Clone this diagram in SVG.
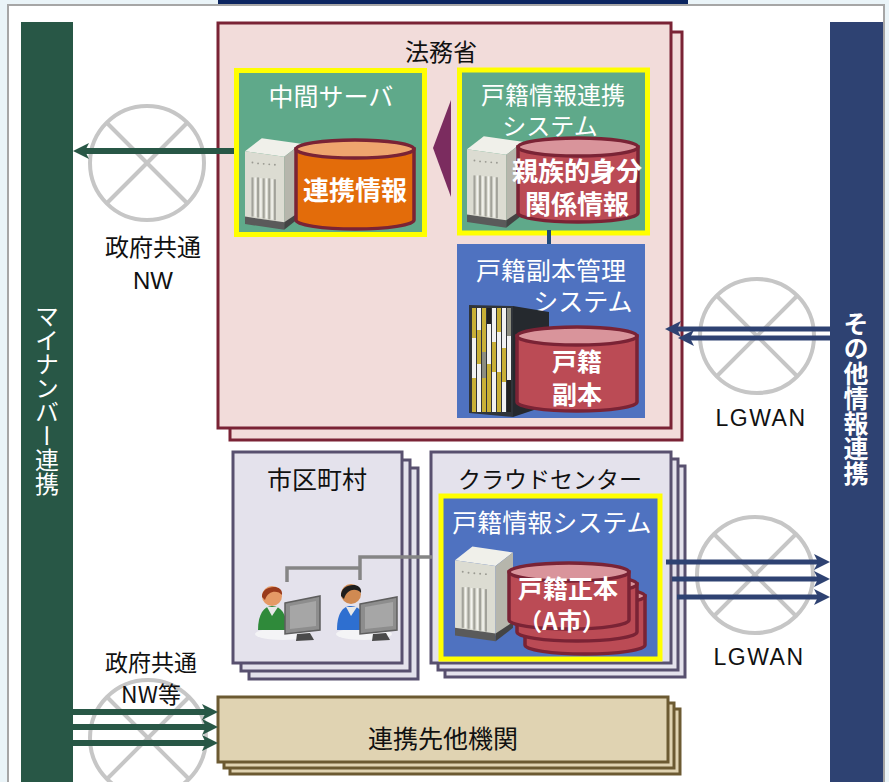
<svg xmlns="http://www.w3.org/2000/svg" xmlns:xlink="http://www.w3.org/1999/xlink" width="889" height="782" viewBox="0 0 889 782">
  <style>
    .jp { font-family: "Noto Sans CJK JP", "Noto Sans", sans-serif; dominant-baseline: central; text-anchor: middle; }
    .wt { fill: #ffffff; }
    .bk { fill: #111111; }
    .bd { font-weight: bold; }
    .lat { font-family: "Liberation Sans", "Noto Sans", sans-serif; dominant-baseline: central; text-anchor: middle; fill: #111111; }
    .net { fill: none; stroke: #c6c6c6; stroke-width: 4; }
    .law { fill: #f2dcda; stroke: #7a2335; stroke-width: 3; }
    .muni { fill: #e4e2ec; stroke: #58506f; stroke-width: 3; }
    .tan { fill: #e0d3b2; stroke: #6c5a32; stroke-width: 3; }
    .ybox-g { fill: #5fa98a; stroke: #ffff00; stroke-width: 5; }
    .ybox-b { fill: #4f72c0; stroke: #ffff00; stroke-width: 5; }
    .cyl-r { fill: #bb4b55; stroke: #7a2335; stroke-width: 3.5; }
    .cyl-rt { fill: #d9949b; stroke: #7a2335; stroke-width: 3.5; }
    .cyl-o { fill: #e36c0a; stroke: #7a2335; stroke-width: 3.5; }
    .cyl-ot { fill: #efa56e; stroke: #7a2335; stroke-width: 3.5; }
    .gline { stroke: #285746; stroke-width: 6; fill: none; }
    .nline { stroke: #2e4272; stroke-width: 5; fill: none; }
    .vert { writing-mode: vertical-rl; text-anchor: start; font-family: "Noto Sans CJK JP", "Noto Sans", sans-serif; fill: #ffffff; }
  </style>
  <defs>
    <marker id="ahG" markerUnits="userSpaceOnUse" markerWidth="18" markerHeight="18" refX="8" refY="8" orient="auto" viewBox="0 0 18 18">
      <path d="M0,0 L16,8 L0,16 L4,8 Z" fill="#285746"/>
    </marker>
    <marker id="ahN" markerUnits="userSpaceOnUse" markerWidth="18" markerHeight="18" refX="8" refY="8" orient="auto" viewBox="0 0 18 18">
      <path d="M0,0 L16,8 L0,16 L4,8 Z" fill="#2e4272"/>
    </marker>
    <!-- tower server icon, 60 x 100 -->
    <symbol id="server" viewBox="0 0 60 100">
      <polygon points="0,16 18,2 60,8 42,22" fill="#f0f0ea"/>
      <polygon points="0,16 42,22 42,94 0,88" fill="#dcdcd2"/>
      <polygon points="42,22 60,8 60,82 42,94" fill="#b6b6ac"/>
      <polygon points="0,86 42,92 42,100 0,94" fill="#5a5a5a"/>
      <polygon points="42,92 60,80 60,86 42,100" fill="#444444"/>
      <g fill="#9a9a92">
        <circle cx="8" cy="28" r="1"/><circle cx="14" cy="29" r="1"/><circle cx="20" cy="29.5" r="1"/><circle cx="26" cy="30" r="1"/><circle cx="32" cy="30.5" r="1"/>
      </g>
      <g stroke="#a2a29a" stroke-width="2.2">
        <line x1="8" y1="44" x2="8" y2="86"/>
        <line x1="14" y1="44" x2="14" y2="87"/>
        <line x1="20" y1="45" x2="20" y2="88"/>
        <line x1="26" y1="45" x2="26" y2="89"/>
        <line x1="32" y1="46" x2="32" y2="90"/>
      </g>
      <g stroke="#f4f4f0" stroke-width="1.4">
        <line x1="11" y1="44" x2="11" y2="86"/>
        <line x1="17" y1="45" x2="17" y2="87"/>
        <line x1="23" y1="45" x2="23" y2="88"/>
        <line x1="29" y1="46" x2="29" y2="89"/>
      </g>
    </symbol>
  </defs>

  <!-- page -->
  <rect x="0" y="0" width="889" height="782" fill="#eaf4f8"/>
  <rect x="8" y="5" width="876" height="790" fill="#ffffff" stroke="#a6a6a6" stroke-width="2"/>
  <rect x="218" y="0" width="470" height="4" fill="#0b2560"/>

  <!-- network clouds -->
  <g id="net-gov-upper">
    <circle class="net" cx="147" cy="163" r="57"/>
    <line class="net" x1="107" y1="123" x2="187" y2="203"/>
    <line class="net" x1="187" y1="123" x2="107" y2="203"/>
    <text class="jp bk" x="153" y="245" font-size="24">政府共通</text>
    <text class="lat" x="153" y="280" font-size="24">NW</text>
  </g>
  <g id="net-lgwan-upper">
    <circle class="net" cx="757" cy="336" r="57"/>
    <line class="net" x1="717" y1="296" x2="797" y2="376"/>
    <line class="net" x1="797" y1="296" x2="717" y2="376"/>
    <text class="lat" x="761" y="418" font-size="23" letter-spacing="1.5">LGWAN</text>
  </g>
  <g id="net-lgwan-lower">
    <circle class="net" cx="755" cy="575" r="58"/>
    <line class="net" x1="714" y1="534" x2="796" y2="616"/>
    <line class="net" x1="796" y1="534" x2="714" y2="616"/>
    <text class="lat" x="759" y="657" font-size="23" letter-spacing="1.5">LGWAN</text>
  </g>
  <g id="net-gov-lower">
    <circle class="net" cx="148" cy="738" r="58"/>
    <line class="net" x1="107" y1="697" x2="189" y2="779"/>
    <line class="net" x1="189" y1="697" x2="107" y2="779"/>
    <text class="jp bk" x="151" y="661" font-size="23">政府共通</text>
    <text class="jp bk" x="151" y="693" font-size="23">NW等</text>
  </g>

  <!-- side bars -->
  <g id="mynumber">
    <rect x="21" y="22" width="52" height="760" fill="#285746"/>
    <text class="vert" x="47" y="304" font-size="24">マイナンバー連携</text>
  </g>
  <g id="other-links">
    <rect x="830" y="22" width="53" height="760" fill="#2e4272"/>
    <text class="vert bd" x="856" y="311" font-size="25">その他情報連携</text>
  </g>

  <!-- Ministry of Justice -->
  <g id="moj">
    <rect class="law" x="230" y="32" width="452" height="408"/>
    <rect class="law" x="218" y="23" width="453" height="405"/>
    <text class="jp bk" x="441" y="50" font-size="24">法務省</text>
  </g>

  <g id="intermediate-server">
    <rect class="ybox-g" x="236.5" y="70.5" width="188" height="164"/>
    <text class="jp wt" x="331" y="95" font-size="25">中間サーバ</text>
    <use href="#server" x="245" y="136" width="56" height="94"/>
    <path class="cyl-o" d="M296,149 V220 A59,9 0 0 0 414,220 V149 Z"/>
    <ellipse class="cyl-ot" cx="355" cy="149" rx="59" ry="9"/>
    <text class="jp wt bd" x="355" y="188" font-size="26">連携情報</text>
  </g>

  <polygon id="sync-arrow" points="451,100 433,148 451,197" fill="#7b2c5f"/>

  <g id="koseki-link-system">
    <rect class="ybox-g" x="459.5" y="70" width="188" height="163"/>
    <text class="jp wt" x="553" y="93" font-size="24">戸籍情報連携</text>
    <text class="jp wt" x="550" y="124" font-size="24">システム</text>
    <use href="#server" x="467" y="134" width="56" height="94"/>
    <path class="cyl-r" d="M518,147 V213 A60,9 0 0 0 638,213 V147 Z"/>
    <ellipse class="cyl-rt" cx="578" cy="147" rx="60" ry="9"/>
    <text class="jp wt bd" x="577" y="169" font-size="26">親族的身分</text>
    <text class="jp wt bd" x="577" y="202" font-size="26">関係情報</text>
  </g>

  <g id="koseki-copy-system">
    <rect x="457" y="244" width="188" height="174" fill="#4f72c0"/>
    <text class="jp wt" x="551" y="269" font-size="25">戸籍副本管理</text>
    <text class="jp wt" x="583" y="300" font-size="25">システム</text>
    <!-- storage rack -->
    <polygon points="513,306 549,312 549,405 513,417" fill="#25292e"/>
    <polygon points="469,305 513,306 513,417 469,413" fill="#30343a"/>
    <g>
      <rect x="472" y="308" width="4" height="30" fill="#c9b037"/><rect x="472" y="338" width="4" height="40" fill="#f2f2f2"/><rect x="472" y="378" width="4" height="34" fill="#c9b037"/>
      <rect x="477" y="308" width="4" height="22" fill="#f2f2f2"/><rect x="477" y="330" width="4" height="34" fill="#c9b037"/><rect x="477" y="364" width="4" height="48" fill="#f2f2f2"/>
      <rect x="482" y="308" width="4" height="44" fill="#c9b037"/><rect x="482" y="352" width="4" height="26" fill="#8d8d80"/><rect x="482" y="378" width="4" height="34" fill="#c9b037"/>
      <rect x="487" y="308" width="4" height="16" fill="#222"/><rect x="487" y="324" width="4" height="40" fill="#f2f2f2"/><rect x="487" y="364" width="4" height="48" fill="#c9b037"/>
      <rect x="492" y="308" width="4" height="34" fill="#f2f2f2"/><rect x="492" y="342" width="4" height="30" fill="#c9b037"/><rect x="492" y="372" width="4" height="40" fill="#f2f2f2"/>
      <rect x="497" y="308" width="4" height="24" fill="#c9b037"/><rect x="497" y="332" width="4" height="40" fill="#f2f2f2"/><rect x="497" y="372" width="4" height="40" fill="#c9b037"/>
      <rect x="502" y="308" width="4" height="40" fill="#f2f2f2"/><rect x="502" y="348" width="4" height="34" fill="#c9b037"/><rect x="502" y="382" width="4" height="30" fill="#f2f2f2"/>
      <rect x="507" y="308" width="4" height="28" fill="#8d8d80"/><rect x="507" y="336" width="4" height="44" fill="#f2f2f2"/><rect x="507" y="380" width="4" height="32" fill="#222"/>
    </g>
    <path class="cyl-r" d="M517,336 V402 A60,9 0 0 0 637,402 V336 Z"/>
    <ellipse class="cyl-rt" cx="577" cy="336" rx="60" ry="9"/>
    <text class="jp wt bd" x="577" y="360" font-size="25">戸籍</text>
    <text class="jp wt bd" x="577" y="393" font-size="25">副本</text>
  </g>

  <!-- municipalities -->
  <g id="municipality">
    <rect class="muni" x="249" y="468" width="169" height="211"/>
    <rect class="muni" x="241" y="460" width="169" height="211"/>
    <rect class="muni" x="233" y="452" width="169" height="211"/>
    <text class="jp bk" x="317" y="478" font-size="25">市区町村</text>
    <!-- operator (green) -->
    <g id="operator-1">
      <ellipse cx="283" cy="634" rx="28" ry="6" fill="#f4f4f6"/>
      <path d="M258,630 C258,614 264,606 272,606 C281,606 287,614 287,630 Z" fill="#2f8a3a"/>
      <path d="M267,607 L272,616 L278,607 Z" fill="#e8e8e8"/>
      <circle cx="272" cy="596" r="10" fill="#e59a66"/>
      <path d="M262,597 C261,585 284,583 282,595 C278,590 268,590 265,600 Z" fill="#9a3b1c"/>
      <polygon points="285,603 320,596 320,630 285,634" fill="#8d8d8d" stroke="#5e5e5e" stroke-width="1.5"/>
      <polygon points="290,606 316,601 316,626 290,629" fill="#a6a6a6"/>
      <polygon points="297,634 310,633 314,640 296,641" fill="#4a4a4a"/>
    </g>
    <!-- operator (blue) -->
    <g id="operator-2">
      <ellipse cx="364" cy="634" rx="28" ry="6" fill="#f4f4f6"/>
      <path d="M337,630 C337,613 343,606 351,606 C360,606 366,614 366,630 Z" fill="#2e6fd0"/>
      <path d="M346,607 L351,616 L357,607 Z" fill="#e8e8e8"/>
      <circle cx="351" cy="594" r="10" fill="#d08a52"/>
      <path d="M341,596 C340,583 363,581 361,593 C357,588 347,588 344,599 Z" fill="#1e1e1e"/>
      <polygon points="360,604 397,597 397,630 360,634" fill="#8d8d8d" stroke="#5e5e5e" stroke-width="1.5"/>
      <polygon points="365,607 393,602 393,626 365,629" fill="#a6a6a6"/>
      <polygon points="373,634 386,633 390,640 372,641" fill="#4a4a4a"/>
    </g>
  </g>

  <!-- cloud center -->
  <g id="cloud-center">
    <rect class="muni" x="445" y="466" width="240" height="211"/>
    <rect class="muni" x="438" y="459" width="240" height="211"/>
    <rect class="muni" x="431" y="452" width="240" height="211"/>
    <text class="jp bk" x="550" y="478" font-size="23">クラウドセンター</text>
  </g>
  <g id="koseki-system">
    <rect class="ybox-b" x="441" y="496" width="219" height="163"/>
    <text class="jp wt" x="552" y="521" font-size="25">戸籍情報システム</text>
    <use href="#server" x="455" y="544" width="58" height="98"/>
    <path class="cyl-r" d="M525,596 V645 A60,9 0 0 0 645,645 V596 Z"/>
    <ellipse class="cyl-rt" cx="585" cy="596" rx="60" ry="9"/>
    <path class="cyl-r" d="M517,584 V632 A60,9 0 0 0 637,632 V584 Z"/>
    <ellipse class="cyl-rt" cx="577" cy="584" rx="60" ry="9"/>
    <path class="cyl-r" d="M509,572 V620 A60,9 0 0 0 629,620 V572 Z"/>
    <ellipse class="cyl-rt" cx="569" cy="572" rx="60" ry="9"/>
    <text class="jp wt bd" x="568" y="587" font-size="25">戸籍正本</text>
    <text class="jp wt bd" x="562" y="619" font-size="24">（A市）</text>
  </g>

  <!-- partner organisations -->
  <g id="partners">
    <rect class="tan" x="230" y="709" width="450" height="65"/>
    <rect class="tan" x="224" y="703" width="450" height="65"/>
    <rect class="tan" x="218" y="697" width="450" height="65"/>
    <text class="jp bk" x="443" y="737" font-size="25">連携先他機関</text>
  </g>

  <!-- connectors -->
  <g id="connectors">
    <line class="gline" x1="234" y1="151" x2="81" y2="151" marker-end="url(#ahG)"/>
    <line x1="549" y1="230" x2="549" y2="244" stroke="#1f4a7a" stroke-width="4"/>
    <line class="nline" x1="830" y1="329" x2="673" y2="329" marker-end="url(#ahN)"/>
    <line class="nline" x1="830" y1="338" x2="686" y2="338" marker-end="url(#ahN)"/>
    <line class="nline" x1="666" y1="562" x2="822" y2="562" marker-end="url(#ahN)"/>
    <line class="nline" x1="672" y1="579" x2="822" y2="579" marker-end="url(#ahN)"/>
    <line class="nline" x1="677" y1="597" x2="822" y2="597" marker-end="url(#ahN)"/>
    <line class="gline" x1="73" y1="712" x2="210" y2="712" marker-end="url(#ahG)"/>
    <line class="gline" x1="73" y1="727" x2="210" y2="727" marker-end="url(#ahG)"/>
    <line class="gline" x1="73" y1="743" x2="210" y2="743" marker-end="url(#ahG)"/>
    <polyline points="287,582 287,568 360,568" fill="none" stroke="#858585" stroke-width="3.5"/>
    <polyline points="360,580 360,557 432,557" fill="none" stroke="#858585" stroke-width="3.5"/>
  </g>
</svg>
